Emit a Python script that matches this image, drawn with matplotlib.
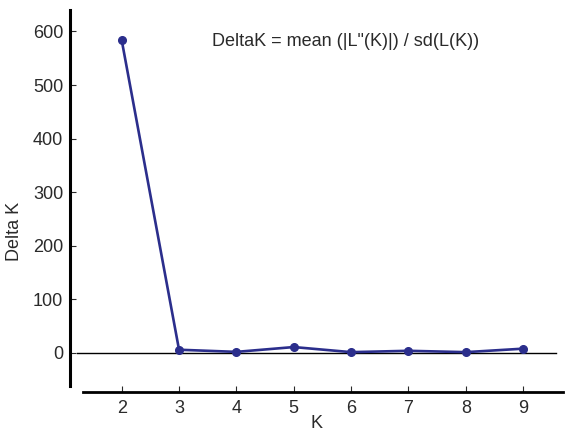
import matplotlib.pyplot as plt
import numpy as np

# values
k_values = [2, 3, 4, 5, 6, 7, 8, 9]
delta_k = [584, 6, 2, 11, 1.5, 4, 1.5, 8]
y_ticks = [0, 100, 200, 300, 400, 500, 600]
x_ticks = [2, 3, 4, 5, 6, 7, 8, 9]

plt.rcParams['font.family'] = ['Liberation Sans', 'DejaVu Sans']

line_col = '#2b2e8c'
text_col = '#2a2a2a'

fig = plt.figure(figsize=(5.65, 4.36), dpi=100)
ax = fig.add_axes([0.124, 0.102, 0.873, 0.875])

# zero line, a bit shorter than the x range
ax.axhline(0, xmin=(1.22 - 1.1) / (9.7 - 1.1), xmax=(9.58 - 1.1) / (9.7 - 1.1),
           color='black', linewidth=1.0)
ax.plot(k_values, delta_k, color=line_col, linewidth=1.9, marker='o',
        markersize=5.5, zorder=3)

ax.set_xlim(1.1, 9.7)
ax.set_ylim(-72, 640)

for side in ['top', 'right']:
    ax.spines[side].set_visible(False)
ax.spines['left'].set_linewidth(2.2)
ax.spines['left'].set_bounds(-61, 640)
ax.spines['bottom'].set_linewidth(2.0)
ax.spines['bottom'].set_bounds(1.32, 9.7)

ax.set_xticks(x_ticks)
ax.set_yticks(y_ticks)
ax.tick_params(axis='both', direction='in', length=4, width=0.8,
               labelsize=13, colors=text_col)
ax.tick_params(axis='x', pad=6)
ax.tick_params(axis='y', pad=5)

ax.set_xlabel('K', fontsize=13, color=text_col, labelpad=-1)
ax.set_ylabel('Delta K', fontsize=13, color=text_col)
ax.yaxis.set_label_coords(-0.095, 0.42)

ax.text(5.9, 581, 'DeltaK = mean (|L"(K)|) / sd(L(K))', fontsize=13,
        color=text_col, ha='center', va='center')

fig.savefig('out.png', dpi=100)
